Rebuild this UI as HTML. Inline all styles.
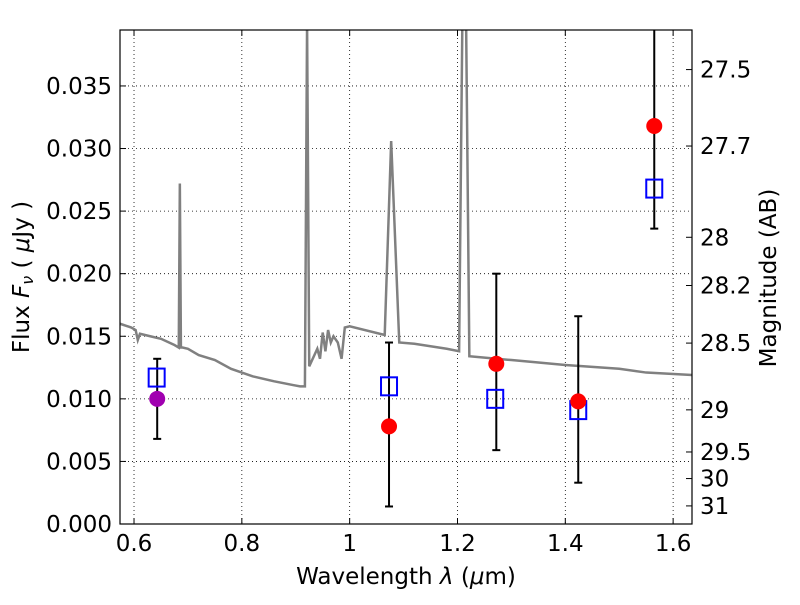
<!DOCTYPE html>
<html><head><meta charset="utf-8"><style>body{margin:0;background:#fff}svg{font-family:"DejaVu Sans","Liberation Sans",sans-serif}</style></head>
<body>
<svg id="c" width="800" height="600"></svg>
<script>
const xTicks=[0.6,0.8,1.0,1.2,1.4,1.6];
const xTickLabels=["0.6","0.8","1","1.2","1.4","1.6"];
const yTicks=[0,0.005,0.01,0.015,0.02,0.025,0.03,0.035];
const yTickLabels=["0.000","0.005","0.010","0.015","0.020","0.025","0.030","0.035"];
const magTicks=[27.5,27.7,28,28.2,28.5,29,29.5,30,31];
const specWave=[0.574,0.595,0.603,0.607,0.611,0.63,0.65,0.665,0.675,0.683,0.685,0.687,0.69,0.70,0.72,0.75,0.78,0.82,0.86,0.895,0.908,0.917,0.921,0.925,0.94,0.945,0.95,0.955,0.96,0.965,0.97,0.978,0.985,0.991,1.00,1.065,1.077,1.092,1.12,1.18,1.203,1.209,1.216,1.222,1.3,1.4,1.5,1.55,1.635];
const specFlux=[0.0160,0.0157,0.0155,0.0147,0.0152,0.0150,0.0148,0.0145,0.0143,0.0141,0.0272,0.0141,0.0141,0.0140,0.0135,0.0131,0.0124,0.0118,0.0114,0.0111,0.0110,0.0110,0.0400,0.0126,0.0140,0.0132,0.0153,0.0138,0.0155,0.0145,0.0150,0.0145,0.0132,0.0157,0.0158,0.0151,0.0306,0.0145,0.0144,0.0140,0.0138,0.0400,0.0400,0.0134,0.0131,0.0127,0.0124,0.0121,0.0119];
const obsWave=[1.073,1.272,1.424,1.565];
const obsFlux=[0.0078,0.0128,0.0098,0.0318];
const obsLo=[0.0014,0.0059,0.0033,0.0236];
const obsHi=[0.0145,0.0200,0.0166,0.0420];
const purpleWave=[0.643],purpleFlux=[0.0100],purpleLo=[0.0068],purpleHi=[0.0132];
const modelWave=[0.642,1.073,1.27,1.424,1.565];
const modelFlux=[0.0117,0.0110,0.0100,0.0091,0.0268];

const L=120,R=692,T=30,B=524,x0=0.574,x1=1.635,y0=0,y1=0.03947;
const X=v=>L+(v-x0)/(x1-x0)*(R-L), Y=v=>B-(v-y0)/(y1-y0)*(B-T);
const NS="http://www.w3.org/2000/svg",svg=document.getElementById('c');
function el(t,a,p){const e=document.createElementNS(NS,t);for(const k in a)e.setAttribute(k,a[k]);(p||svg).appendChild(e);return e;}
const clip=el('clipPath',{id:'cl'});el('rect',{x:L,y:T,width:R-L,height:B-T},clip);
xTicks.forEach((v,i)=>{
 const g=el('line',{x1:X(v),x2:X(v),y1:T,y2:B,stroke:'#000','stroke-dasharray':'1,3','stroke-width':0.8});
 
 el('line',{x1:X(v),x2:X(v),y1:B,y2:B-6,stroke:'#000'});el('line',{x1:X(v),x2:X(v),y1:T,y2:T+6,stroke:'#000'});
 const t=el('text',{x:X(v),y:B+27,'text-anchor':'middle','font-size':23});t.textContent=xTickLabels[i];
 
});
yTicks.forEach((v,i)=>{
 const g=el('line',{x1:L,x2:R,y1:Y(v),y2:Y(v),stroke:'#000','stroke-dasharray':'1,3','stroke-width':0.8});
 
 el('line',{x1:L,x2:L+6,y1:Y(v),y2:Y(v),stroke:'#000'});
 const t=el('text',{x:L-8,y:Y(v)+8,'text-anchor':'end','font-size':23});t.textContent=yTickLabels[i];
 
});
magTicks.forEach(m=>{
 const y=Y(Math.pow(10,(23.9-m)/2.5));
 el('line',{x1:R,x2:R-6,y1:y,y2:y,stroke:'#000'});
 const t=el('text',{x:R+8,y:y+8,'font-size':23});t.textContent=String(m);
 
});
const g=el('g',{'clip-path':'url(#cl)'});
const sp=el('path',{d:specWave.map((w,i)=>(i?'L':'M')+X(w)+','+Y(specFlux[i])).join(''),fill:'none',stroke:'#808080','stroke-width':2.5},g);

function err(w,lo,hi){el('line',{x1:X(w),x2:X(w),y1:Y(lo),y2:Y(hi),stroke:'#000','stroke-width':2},g);
 [lo,hi].forEach(v=>el('line',{x1:X(w)-4,x2:X(w)+4,y1:Y(v),y2:Y(v),stroke:'#000','stroke-width':2},g));}
purpleWave.forEach((w,i)=>err(w,purpleLo[i],purpleHi[i]));
obsWave.forEach((w,i)=>err(w,obsLo[i],obsHi[i]));
modelWave.forEach((w,i)=>{const r=el('rect',{x:X(w)-8,y:Y(modelFlux[i])-9,width:16,height:18,fill:'none',stroke:'#0000ff','stroke-width':2},g);
 });
purpleWave.forEach((w,i)=>{const c=el('circle',{cx:X(w),cy:Y(purpleFlux[i]),r:8,fill:'#a000b0'},g);
 });
obsWave.forEach((w,i)=>{const c=el('circle',{cx:X(w),cy:Y(obsFlux[i]),r:8,fill:'#ff0000'},g);
 });
el('rect',{x:L,y:T,width:R-L,height:B-T,fill:'none',stroke:'#000','stroke-width':1.2});
let t=el('text',{x:406,y:584,'text-anchor':'middle','font-size':23});t.innerHTML='Wavelength  <tspan font-style="italic">λ</tspan> (<tspan font-style="italic">μ</tspan>m)';

t=el('text',{transform:'translate(29,277) rotate(-90)','text-anchor':'middle','font-size':23});t.innerHTML='Flux  <tspan font-style="italic">F</tspan><tspan font-style="italic" font-size="16" dy="4">ν</tspan><tspan dy="-4">  ( </tspan><tspan font-style="italic">μ</tspan>Jy )';

t=el('text',{transform:'translate(776,278) rotate(-90)','text-anchor':'middle','font-size':23});t.textContent='Magnitude (AB)';

</script>
</body></html>
